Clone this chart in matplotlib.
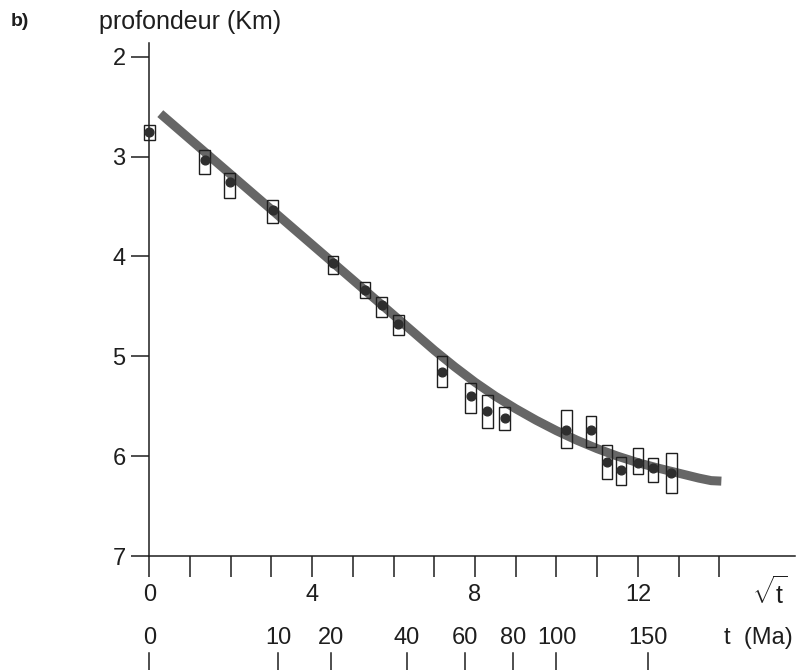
import numpy as np
import matplotlib
matplotlib.use("Agg")
import matplotlib.pyplot as plt
import matplotlib.transforms as mtrans

plt.rcParams['font.family'] = ['Liberation Sans', 'DejaVu Sans']
plt.rcParams['mathtext.fontset'] = 'custom'
plt.rcParams['mathtext.rm'] = 'Liberation Sans'
plt.rcParams['mathtext.it'] = 'Liberation Sans'

# mesures (racine de l'age, profondeur en km)
sqrt_t = [0.0, 1.36, 1.97, 3.03, 4.51, 5.30, 5.71, 6.12, 7.19, 7.89,
          8.30, 8.73, 10.24, 10.85, 11.24, 11.59, 12.0, 12.37, 12.82]
depth = [2.75, 3.03, 3.25, 3.54, 4.07, 4.34, 4.49, 4.68, 5.16, 5.40,
         5.55, 5.62, 5.74, 5.74, 6.06, 6.14, 6.07, 6.12, 6.17]
box_top = [2.68, 2.93, 3.16, 3.43, 4.00, 4.26, 4.41, 4.59, 5.00, 5.27,
           5.39, 5.51, 5.54, 5.60, 5.89, 6.01, 5.92, 6.02, 5.97]
box_bot = [2.83, 3.17, 3.41, 3.67, 4.18, 4.42, 4.61, 4.79, 5.31, 5.57,
           5.72, 5.74, 5.92, 5.91, 6.23, 6.29, 6.18, 6.26, 6.37]

# courbe theorique
curve_x = [0.27, 1, 2, 3, 4, 5, 6, 6.5, 7, 7.5, 8, 8.5, 9, 9.5, 10,
           10.5, 11, 11.5, 12, 12.5, 13, 13.5, 13.8, 14.05]
curve_y = [2.57, 2.827, 3.179, 3.531, 3.883, 4.235, 4.587, 4.763, 4.94,
           5.105, 5.26, 5.40, 5.525, 5.64, 5.745, 5.84, 5.925, 6.00,
           6.065, 6.12, 6.17, 6.22, 6.245, 6.25]

# graduations
y_ticks = [2, 3, 4, 5, 6, 7]
x_major = [0, 4, 8, 12]
x_minor = list(range(15))
age_ticks = [0, 10, 20, 40, 60, 80, 100, 150]

ink = '#1e1e1e'

fig = plt.figure(figsize=(7.98, 6.70), dpi=100)
ax = fig.add_axes([0.1871, 0.1701, 0.8092, 0.7657])

ax.plot(curve_x, curve_y, color='#666666', lw=6.5, solid_capstyle='butt',
        solid_joinstyle='round', zorder=2)
ax.bar(sqrt_t, np.array(box_bot) - np.array(box_top), bottom=box_top,
       width=0.26, fill=False, edgecolor=ink, linewidth=1.0, zorder=3,
       clip_on=False)
ax.plot(sqrt_t, depth, 'o', color='#2e2e2e', ms=6.3, zorder=4, clip_on=False)

ax.set_xlim(0, 15.86)
ax.set_ylim(7, 1.863)

for s in ['top', 'right']:
    ax.spines[s].set_visible(False)
for s in ['left', 'bottom']:
    ax.spines[s].set_color(ink)
    ax.spines[s].set_linewidth(1.1)

ax.set_yticks(y_ticks)
ax.set_yticklabels([str(v) for v in y_ticks])
ax.tick_params(axis='y', direction='out', length=13, width=1.1, color=ink,
               pad=4, labelsize=17, labelcolor=ink)

ax.set_xticks(x_major)
ax.set_xticklabels([str(v) for v in x_major])
ax.set_xticks(x_minor, minor=True)
ax.tick_params(axis='x', which='both', direction='out', length=15, width=1.1,
               color=ink, pad=5, labelsize=17, labelcolor=ink)

trans = mtrans.blended_transform_factory(ax.transData, ax.transAxes)
for a in age_ticks:
    xa = np.sqrt(a)
    ax.text(xa, -0.160, str(a), transform=trans, ha='center', va='center',
            fontsize=17, color=ink, clip_on=False)
    ax.plot([xa, xa], [-0.189, -0.23], transform=trans, color=ink, lw=1.1,
            clip_on=False)

ax.text(15.25, -0.072, r'$\sqrt{t}$', transform=trans, ha='center',
        va='center', fontsize=18, color=ink)
ax.text(14.95, -0.160, 't  (Ma)', transform=trans, ha='center', va='center',
        fontsize=17, color=ink)

fig.text(99 / 798, 1 - 22 / 670, 'profondeur (Km)', ha='left', va='center',
         fontsize=18, color=ink)
fig.text(11 / 798, 1 - 22 / 670, 'b)', ha='left', va='center',
         fontsize=14, fontweight='bold', color=ink)

fig.savefig('out.png', dpi=100)
